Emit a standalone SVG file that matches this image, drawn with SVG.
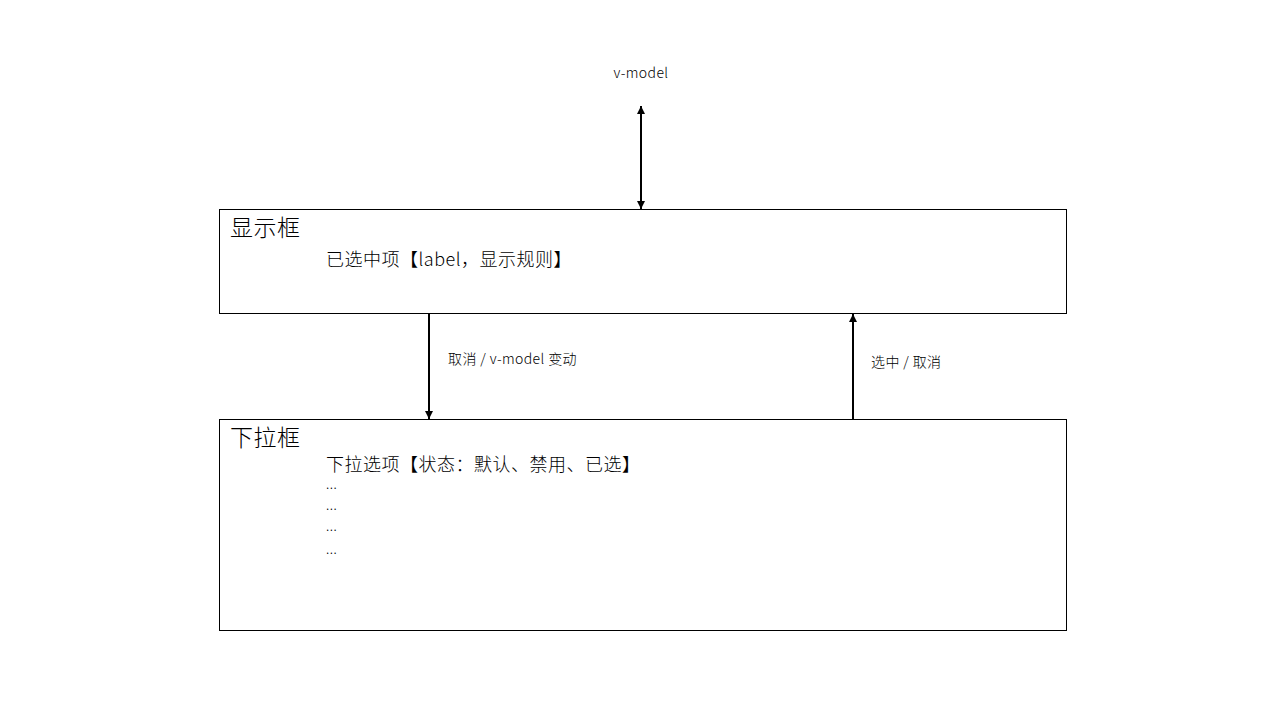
<svg xmlns="http://www.w3.org/2000/svg" width="1280" height="720" viewBox="0 0 1280 720">
<style>
.box{fill:#fff;stroke:#000;stroke-width:1}
.t{font-family:"Noto Sans CJK SC","Noto Sans",sans-serif;fill:#000;font-weight:300}
.title{font-size:23px;letter-spacing:0.5px}
.body{font-size:18px;letter-spacing:0.5px}
.dots{font-size:13px;letter-spacing:0.5px}
.lbl{font-size:14px;letter-spacing:0.4px}
.conn{stroke:#000;stroke-width:2;fill:none}
</style>
<defs>
<marker id="ah" viewBox="0 0 10 10" refX="10" refY="5" markerWidth="4" markerHeight="4" orient="auto-start-reverse" markerUnits="strokeWidth">
<path d="M0,0 L10,5 L0,10 z" fill="#000"/>
</marker>
</defs>
<rect width="1280" height="720" fill="#fff"/>
<g id="display">
<rect class="box" x="219.5" y="209.5" width="847" height="104"/>
<text class="t title" x="230" y="236">显示框</text>
<text class="t body" x="326" y="266">已选中项【label，显示规则】</text>
</g>
<g id="dropdown">
<rect class="box" x="219.5" y="419.5" width="847" height="211"/>
<text class="t title" x="230" y="446">下拉框</text>
<text class="t body" x="326" y="471">下拉选项【状态：默认、禁用、已选】</text>
<text class="t dots" x="326" y="489">...</text>
<text class="t dots" x="326" y="510">...</text>
<text class="t dots" x="326" y="531">...</text>
<text class="t dots" x="326" y="554">...</text>
</g>
<g id="vmodel">
<text class="t lbl" x="641" y="78" text-anchor="middle">v-model</text>
</g>
<g id="connectors">
<line class="conn" x1="641" y1="106" x2="641" y2="209" marker-start="url(#ah)" marker-end="url(#ah)"/>
<line class="conn" x1="429" y1="314" x2="429" y2="419" marker-end="url(#ah)"/>
<line class="conn" x1="853" y1="419" x2="853" y2="314" marker-end="url(#ah)"/>
<text class="t lbl" x="448" y="364">取消 / v-model 变动</text>
<text class="t lbl" x="871" y="367">选中 / 取消</text>
</g>
</svg>
